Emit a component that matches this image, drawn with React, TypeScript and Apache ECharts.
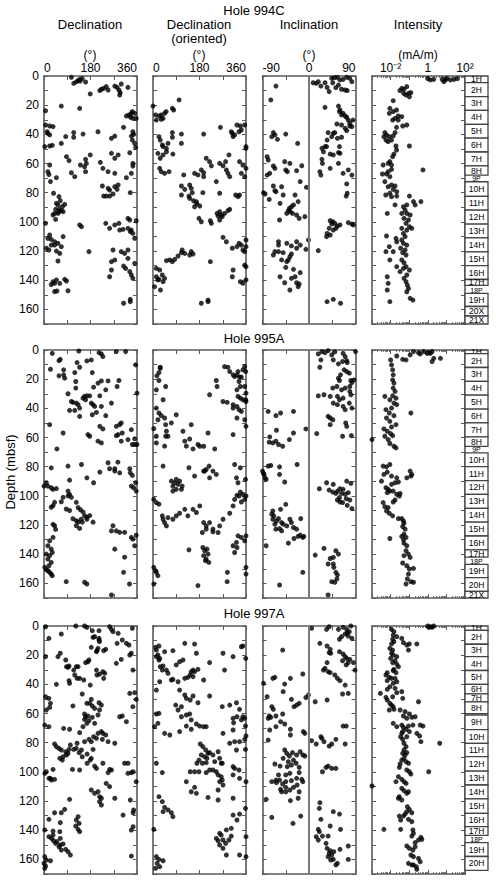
import React, { useEffect, useRef } from 'react';
import * as echarts from 'echarts';

const FONT = '"Liberation Sans", Arial, Helvetica, sans-serif';

// ---------------- Data (declination/inclination in degrees, depth in mbsf) ----------------
const holeNames = ['994C', '995A', '997A'];
const columnTitles = ['Declination', 'Declination\n(oriented)', 'Inclination', 'Intensity'];
const columnUnits = ['(°)', '(°)', '(°)', '(mA/m)'];
const depthTickLabels = [0, 20, 40, 60, 80, 100, 120, 140, 160];

const dec994C: number[][] = [
  [106,0.9],[115,5],[132,3.2],[138,2.3],[148,1.8],[140,3.5],[161,4.1],[125,4.0],
  [179,12.3],[216,10],[222,9.1],[241,7.3],[248,9.6],[231,8.5],
  [274,6.9],[283,7.8],[290,9.6],[293,13],[295,11.4],[299,5.5],[325,7.8],
  [6,23.8],[67,20.6],[138,22.2],
  [319,27.4],[329,26.7],[338,25.6],[342,24.4],[335,28.3],[344,29],[351,25.6],[357,29],[308,35.2],
  [6,33.6],[12,38.2],[22,34.3],[35,34.7],[15,39.3],[22,40.4],
  [3,48.4],[22,48],[32,47.5],[67,46.2],[84,41.5],[115,38.8],[115,42],[151,39.8],[209,38.2],[261,42.7],[274,41.2],
  [344,38.2],[347,40],[342,43.9],[351,46.2],[355,48.9],[338,41.2],[332,52.6],
  [261,53],[274,56.4],[287,54.1],[87,55.3],[97,58],[179,54.1],[161,57.1],[164,59.9],[141,61],[157,62.2],
  [22,61],[15,65.6],[19,67.5],[218,59.2],[228,63.3],[248,65.6],[274,66.7],[344,59.9],[344,61.7],[338,66.7],
  [106,66.3],[119,69],[319,69.7],[161,65.6],[48,69.7],
  [25,72.4],[37,80.4],[58,82.7],[63,85.5],[54,88.4],[48,87.3],[45,91.4],[58,91.4],[71,89.6],[80,88],[67,92.3],[41,94.2],[54,94.2],[74,93],[35,95.3],[45,98.3],[58,93],
  [6,101],[138,102.1],[145,103.3],
  [22,109],[15,111.3],[28,112],[41,113.6],[54,114.7],[74,110.1],[28,115.9],[41,115.9],[9,118.1],[19,119.3],[48,120],[67,117],[61,121.6],[54,126.8],[174,120.4],
  [35,141],[48,139.8],[61,142.1],[80,139.4],[87,140.5],[41,142.1],[41,147.8],[50,147.4],[93,147.2],[28,143],
  [226,75.4],[248,77],[254,78.2],[274,75.9],[287,74.7],[283,77.7],[231,82.3],[241,82.3],[254,82.3],[267,80.9],[334,80],
  [239,101],[254,104.4],[274,102.1],[290,101],[293,105.6],[306,105.1],[325,97.6],[332,98.7],[338,105.6],[344,107.9],[351,111.3],[357,99.2],[334,106.7],[325,104.4],
  [267,119.3],[274,126.1],[261,127.3],[261,133],[254,137.6],[299,120.4],[312,121.6],[325,125],[316,131.9],[332,134.1],[338,136.4],[344,138.7],[308,130.3],[351,128.4],[325,119.3],
  [308,155.8],[334,153.1],[334,154.7]
];

const decOr994C: number[][] = [
  [0,20.6],[10,26.7],[23,27.4],[32,26.7],[39,29],[32,29.7],[45,25.6],[51,24.4],[75,22.2],[80,23.3],[101,16.4],
  [13,30.2],[23,41.6],[28,43.9],[36,47.3],[39,48.4],[52,49.6],[58,46.2],
  [75,38.8],[75,42],[110,39.8],[110,46.2],
  [19,53],[28,56.4],[39,54.1],[52,51.9],[77,53.5],
  [196,39.8],[261,35.2],
  [303,38.2],[310,41.5],[316,40.4],[307,39.3],[325,33.6],[338,34.3],[333,38.2],[342,37],[355,33.6],[360,48.4],[360,49.6],
  [26,63.3],[32,65.6],[45,66.7],[62,65.6],[119,67.8],
  [161,66.7],[174,67.8],[187,64.4],[196,66.3],[196,69],
  [206,56.4],[219,58.7],[226,61.6],
  [258,59.9],[271,61.5],[281,58.7],[294,54.1],[284,64.4],[290,66.7],[297,69],
  [335,58.7],[348,61],[342,66.7],[360,63.3],[355,69],
  [110,75.4],[110,81.6],[123,77.7],[142,74.7],[139,82.3],[148,77],[152,80],[142,83.9],[157,85.5],[170,87.7],[161,89.6],[168,86.2],[181,89.1],
  [193,80],[245,72.4],[258,80.4],
  [178,97.6],[187,99.9],[222,99.2],[226,101],
  [248,94.2],[258,93],[268,96.4],[277,94.2],[290,92.3],[297,91.4],[258,98.7],[264,95.3],[252,96],
  [320,81.6],[329,82.7],[335,81.6],
  [271,110.6],[284,113.6],
  [307,118.1],[325,117],[333,114.7],[342,115.9],[348,119.3],[355,120.4],[360,112.4],[360,117],
  [355,129.6],[360,130.7],[310,133],[307,137.6],[338,141],[348,142.1],[360,139.8],
  [110,121.1],[123,121.6],[142,122.7],[148,120.4],[155,122],[113,119.3],
  [65,126.1],[75,127.3],[52,126.6],[84,125.7],[97,123.4],
  [13,131.9],[26,133],[36,136.4],[45,138.7],[23,139.4],[13,137.6],[39,141],[6,144.4],[29,146.7],[19,139.8],
  [222,127.3],[187,155.8],[213,154.7],[213,153.6]
];

const inc994C: number[][] = [
  [-64,6.9],[-74,16.4],[-69,38.8],[-66,40.4],[-72,41.6],[-61,43.4],[-45,39.8],[-22,46.2],
  [-81,55.3],[-79,57.6],[-69,61.7],[-66,63.3],[-76,66.7],[-81,67.9],[-47,58.7],[-37,59.9],[-45,64.4],[-42,65.6],[-24,64.9],[-14,61.5],
  [8,4.6],[14,5],[18,3.9],[23,6.9],[31,4.6],[35,7.8],[39,10.7],[44,1.6],[50,1.1],[55,0.9],[60,2.7],[66,2.3],[73,0.9],[79,1.6],[83,3.9],[57,6.2],[63,9.1],[70,9.6],[74,10],[52,8],[46,4.6],
  [31,21.5],[57,20.6],[60,23.3],[66,25.6],[70,27.4],[73,28.3],[76,30.2],[79,32.4],[83,34.7],[59,24.4],[63,26.7],
  [54,32.9],[63,33.6],[70,35.9],[73,37.5],[79,34.3],[85,30.2],[47,39.3],[50,38.8],
  [37,38.8],[44,41.6],[35,43.9],[31,48.4],[25,49.6],[28,51.9],[34,48.4],[41,53.5],[47,54.1],[57,52.5],[60,53],[59,48.4],[55,42.7],[63,42],
  [25,57.1],[26,59.9],[21,65.6],[23,67.9],[41,63.3],[57,59.9],[66,66.7],[76,64.4],[83,67.9],
  [-69,75.4],[-53,75.9],[-64,79.3],[-85,80.9],[-88,80],[-77,84.6],[-56,87.3],[-66,78.6],[-50,81.6],[-27,81.6],[-21,86.1],[-5,76.3],[-17,72.4],[-30,88.4],[-34,89.6],[-38,90.7],[-36,93],[-43,94.2],[-32,94.2],[-24,95.3],[-40,92.3],[-57,98.7],[-19,97.6],[-8,96.4],
  [-59,113.6],[-43,114.7],[-24,113.6],[-17,115.9],[-24,118.1],[-34,116.5],[-1,112.4],[-6,118.8],[-66,120.4],[-69,122.7],[-59,120.4],[-50,121.1],[-53,126.1],[-40,126.1],[-37,123.9],[-34,122],[-43,127.3],[-45,131.2],[-30,132.5],[-17,134.8],[-27,137.6],[-34,138.7],[-56,137.6],[-47,141.7],[-24,141.7],[-21,144.4],[-37,146.7],[-19,142.6],[-59,115.9],
  [18,119.7],[41,99.2],[46,99.9],[44,101.5],[50,101],[55,102.8],[60,102.1],[39,104.4],[35,107.9],[41,109],[47,105.6],[52,104.4],[34,110.1],[76,100.5],[83,101.5],[86,102.1],
  [73,74],[74,80.4],[72,82.3],
  [35,154.7],[47,153.1],[61,155.8]
];

// intensity given as log10(mA/m)
const intLog994C: number[][] = [
  [0,1.8],[0.14,2.7],[0.32,2.3],[0.77,2.3],[0.86,3.9],[0.95,2.7],[1.04,1.6],[1.22,2.7],[1.41,2.3],[1.59,1.8],
  [-1.4,8.5],[-1.5,10],[-1.28,9.1],[-1.3,11.9],[-1.17,13],[-1.04,11.9],[-0.91,11.4],[-0.99,14.2],[-1.13,7.3],
  [-1.86,16.9],
  [-2.04,22.2],[-2.07,25.6],[-1.86,24.4],[-1.68,23.3],[-1.59,27.4],[-1.76,29],[-1.59,30.2],[-1.4,27.9],[-1.13,33.6],[-1.35,34.3],[-1.68,35.2],[-1.89,30.2],
  [-2.31,38.8],[-2.22,40.4],[-2.07,41.6],[-1.95,43.9],[-2.13,45],[-1.86,41.1],[-1.76,38.8],[-2.36,41.6],[-2.25,43.9],
  [-1.71,48],[-1.68,50.7],[-0.99,48],[-1.82,53.5],[-1.89,55.3],[-2.04,58.7],[-2.13,59.9],[-1.95,61],
  [-1.95,64],[-2.13,65.6],[-2.22,67.2],[-2.04,69],[-2.4,61],[-2.44,67.2],[-0.26,64.4],
  [-2.31,72.4],[-2.13,75.9],[-1.95,74.7],[-1.76,75.4],[-1.86,77.7],[-1.67,79.3],[-2.04,80.4],[-2.26,81.6],[-1.95,82.7],[-1.67,82.3],
  [-0.99,82.3],[-0.77,86.1],[-0.37,86.1],[-0.68,88.4],[-1.76,88.4],[-2.18,94.2],
  [-1.31,89.6],[-1.13,88.4],[-1.22,91.9],[-1.4,94.2],[-1.13,94.2],[-0.95,95.3],[-1.28,97.6],[-1.04,98.7],[-1.17,101],[-0.99,103.3],[-0.86,104.4],[-1.13,105.6],[-1.4,104.4],[-1.31,107.9],[-1.22,110.1],[-1.4,112.4],[-1.31,114.7],[-1.13,115.9],[-1.46,118.1],[-1.22,119.3],[-1.35,121.1],[-1.17,122.7],[-1.4,126.1],[-1.28,128],[-1.17,130.7],[-0.99,133],[-1.31,131.9],[-1.49,134.1],[-1.13,136.4],[-1.28,138.7],[-1.17,141],[-1.1,143.3],[-1.04,145.6],[-1.13,147.9],[-0.95,152.4],[-0.8,153.6],
  [-2.07,117],[-1.86,120.4],[-2.25,120.4],[-1.71,111.3],[-1.67,113.6],[-2.22,109.7],[-2.04,126.1],[-1.67,130.7],[-2.18,137.6],[-2.13,142.1],[-2.18,146.7],[-2.04,154.7]
];

const dec995A: number[][] = [
  [32,2.3],[63,6.4],[58,7.3],[25,13.2],[76,13.6],[76,17],[80,19.3],[58,17.7],[135,0.7],[128,8.6],[138,11.8],[119,15.5],[123,21.6],[123,26.1],[166,7.5],[183,6.8],[187,15.5],[213,1.8],[222,2.7],[228,4.5],[192,25.5],[209,22.7],[222,21.2],[248,21.2],[239,27.3],[290,20.9],[283,25],[280,1.1],[316,1.1],[355,10.2],[360,29.6],
  [93,30],[106,35.3],[112,35.9],[125,36.4],[132,37.5],[99,41.4],[119,41.4],[138,39.8],[151,33],[157,31.8],[161,34.1],[166,31.4],[177,31.4],[183,36.4],[190,37.5],[196,38.7],[203,42.8],[187,44.4],[216,31.4],[222,38.7],[239,45],[261,36.4],[280,52.3],[293,51.2],[299,50],[138,45.5],[22,51.2],[74,56.9],[170,58],[177,59.1],[216,52.3],[228,54.1],[280,58.7],[287,58],[299,62.5],[303,56.9],[338,54.6],[325,61.4],[351,60.9],[209,62.5],[222,63.7],[351,64.8],[342,64.8],[360,64.8],[50,67.8],
  [28,80.8],[93,79.6],[99,89.2],[145,78.5],[166,87.6],[192,91],[216,83.7],[248,77.3],[254,81.4],[274,81.4],[286,76.9],[293,84.2],[274,83],[332,81.4],[334,84.2],[342,86],[355,91],[347,94.4],[338,93.3],[357,96.7],[9,91],[15,93.3],[28,94.4],[0,93.3],[35,95.5],[48,95],
  [93,96.7],[93,100],[99,99],[106,101],[74,101],[67,104],[35,106.7],[28,107.8],[41,104.4],[86,109],[99,110],[125,104.4],[132,108],[141,109.5],[151,111],[157,113.5],[166,114.6],[112,115.7],[125,117],[132,118],[125,120.5],[138,122.3],[144,116],[148,118],[166,116],[177,113.5],[190,118],[267,120.5],[261,124],[280,124],[274,136.5],[293,125],[312,125],[357,127],[338,128.5],[344,129.7],[312,142],[351,134.2],[35,119.5],[41,120.5],[35,128.5],[45,123],
  [22,130.8],[15,134.2],[28,136.5],[32,138.8],[9,139.9],[22,141],[15,143.3],[28,145.6],[19,147.9],[3,149],[9,150.6],[15,151.3],[22,152.4],[28,153.6],[32,154.7],[86,158.8],[157,159.2],[166,160.4],[331,160.4],[308,152.4],[261,167.9]
];

const decOr995A: number[][] = [
  [15,17.7],[23,15.5],[28,11.8],[23,20.9],[13,27.3],[49,25],[39,34.1],[28,12.5],
  [13,39.8],[23,43.2],[32,45],[45,46.6],[19,47.8],[49,51.2],[52,55.7],[49,59.1],[13,59.1],[3,53.9],[13,63.7],[45,65.9],[58,59.1],[71,50],[90,44.4],[116,55.7],[123,62.5],[129,65.9],[148,51.2],[155,67.8],
  [277,11.4],[290,11.8],[297,14.8],[310,17],[316,18.2],[329,14.8],[325,17],[335,18.6],[333,21.6],[342,18.6],[348,13.6],[355,11.4],[359,14.8],[338,25],[325,27.3],[355,25],[360,29.6],[329,31.8],[338,33],[348,34.1],[360,35.3],[310,37.5],[325,38.7],[333,40.9],[342,42.1],[359,34.1],
  [245,20.9],[248,25],[219,30.7],
  [271,35.3],[287,35.9],[310,39.8],[325,46.6],[355,47.8],[360,52.3],[310,58],
  [213,56.9],[142,61],[174,64.8],[181,66],[196,66],[239,67.8],
  [39,79.6],[71,89.9],[77,93.3],[84,91],[90,88.7],[97,92.1],[103,89.9],[110,95.5],[77,96.7],[90,95.5],[113,93.3],[139,80.7],[161,86.4],[196,83],[206,81.9],[217,79.6],[232,83],[219,87.6],[200,83],[245,85.3],
  [316,78.5],[338,80.8],[323,87.6],[329,91],[358,88.7],
  [3,102.4],[13,104.6],[23,105.7],[36,113.7],[39,116],[45,118.3],[52,120.6],[58,114.9],[77,116],[90,113.7],[103,111.9],[123,109.2],[135,113.7],[155,109.2],[168,111.4],[181,106.9],[196,118.3],[206,120.6],[219,118.3],[232,122.8],[258,120.6],[271,116],[297,111.9],[310,106.9],[316,102.4],[325,99.6],[333,100.1],[338,97.4],[348,98.9],[342,104.2],[355,102.4],[360,100.1],
  [191,125.1],[206,122.8],[232,124.6],[252,125.1],[310,134.2],[323,131.9],[316,138.8],[329,127.4],[342,128.5],[325,135.4],[355,130.8],[360,127.4],
  [193,135.4],[200,137.6],[196,141],[206,143.3],[213,139.9],[209,136.5],[203,144.4],[216,145.6],[288,152.4],[287,158.8],[360,153.6],[360,149],[139,137],
  [3,149],[13,152.4],[19,154.7],[10,151.3],[3,160.4],[174,161.5]
];

const inc995A: number[][] = [
  [18,2.7],[25,1.1],[31,1.8],[37,0.4],[44,3.4],[50,1.3],[66,2.3],[90,1.1],[23,6.8],[47,6.8],[21,11.8],[57,9.5],[70,4.5],[73,7.3],[65,7.9],[74,8.6],[68,13.6],[73,14.8],[78,15.9],[57,19.3],[61,17],[59,20.9],[81,20.9],[87,20.5],[83,22.3],[79,25],[70,26.1],[54,25],[46,26.1],[63,27.3],[18,31.4],[29,30.7],[41,31.8],[55,31.8],[59,34.1],[66,33],[81,30.7],[79,28.4],[78,36.4],[47,36.4],[55,37.5],[70,40.9],[83,39.8],[66,38.7],[41,46.6],[37,45.5],[46,47.8],[41,51.2],[71,50],[73,52.3],[65,59.1],[82,58.7],[15,57.3],
  [-79,42.1],[-64,45],[-55,43.2],[-30,42.1],[-6,54.1],[-63,55],[-30,56.9],[-76,59.6],[-77,63.2],[-70,63.7],[-64,62.5],[-59,64.8],[-51,66],[-38,61.4],
  [-90,83],[-87,85.3],[-85,87.6],[-83,88.7],[-88,84.6],[-79,79.6],[-74,79.2],[-57,80.1],[-57,85.3],[-47,90.5],[-23,78.5],
  [34,91],[47,92.1],[73,89.9],[81,91.4],[20,95.1],[39,96],[46,97.4],[55,96.7],[60,95.1],[66,95.5],[52,98.3],[63,98.3],[70,98.9],[76,97.8],[55,102.8],[60,104.2],[72,101.9],[79,102.8],[65,104.6],[74,106.5],[83,108.7],[59,101.2],
  [-45,105.8],[-55,109.2],[-70,110.3],[-72,112.6],[-68,113.7],[-70,116],[-63,117.2],[-59,115.6],[-53,118.3],[-50,119.4],[-43,120.6],[-66,119.4],[-64,122.8],[-57,122.4],[-53,124],[-37,116],[-34,118.3],[-30,121.7],[-24,122.8],[-16,115.6],[-17,126.9],[-21,127.8],[-12,128.5],[-10,127.8],[-29,129.2],[-40,132.4],[-83,134.2],[-12,152.4],[-57,161.1],
  [29,136],[52,137.6],[12,140.6],[57,139.9],[41,142.9],[47,142.2],[37,146.7],[47,146.7],[48,149],[52,152.4],[55,154.2],[54,156.9],[50,159.2],[44,158.8],[37,167.9]
];

const intLog995A: number[][] = [
  [-1.67,4.1],[-1.35,6.4],[-1.17,6.8],[-0.95,3.4],[-0.77,1.1],[-0.5,1.8],[-0.41,2.7],[-0.22,1.1],[-0.04,2.3],[0.05,1.8],[0.14,2.3],[0.23,1.1],[0.23,7.9],[0.32,5.7],[0.68,5.7],
  [-2,6.8],[-1.95,10.2],[-1.89,13.6],[-1.86,17],[-1.89,20.5],[-1.82,22.7],[-1.86,26.1],[-1.76,28.4],[-1.89,31.4],[-1.71,33],[-1.82,36.4],[-2.31,31.8],[-2.04,34.1],[-1.67,37.5],[-1.95,39.8],[-2.25,40.9],[-2.07,43.2],[-1.82,45],[-2.22,46.6],[-2.04,48.9],[-1.71,51.2],[-1.95,52.8],[-2.36,54.1],[-2.18,55.7],[-2,57.3],[-2.31,59.1],[-1.89,58.7],[-2.13,61.4],[-2.04,64.1],[-1.82,66],[-1.71,67.1],[-0.91,43.2],[-3,61.4],
  [-2.4,79.6],[-2.22,80.1],[-2.04,78.5],[-2.36,85.3],[-2.18,83.7],[-1.95,86.4],[-1.67,87.6],[-1.13,87.6],[-0.95,83],[-0.86,85.3],[-0.91,86.4],[-2.49,89.9],[-2.25,94.4],[-2.13,95.5],[-2.04,96.7],[-2.18,97.8],[-1.95,92.1],[-1.76,91],[-1.58,90.5],[-1.86,96.7],[-1.67,98.9],[-1.53,100.1],[-1.76,102.8],[-1.86,104.2],[-1.49,98.3],[-2.4,104.6],[-2.31,107.4],[-2.13,108],[-2.22,110.3],[-2.07,111.9],[-1.89,113.7],[-1.58,115.6],[-1.4,115.6],[-1.31,117.2],[-1.28,118.7],[-1.35,121],[-1.22,122.8],[-1.28,126.2],[-1.17,128.5],[-1.4,127.8],[-1.31,130.1],[-1.28,132.4],[-1.13,134.2],[-1.17,137.6],[-1.04,139.9],[-0.95,142.2],[-1.28,141],[-1.35,146],[-1.13,147.9],[-0.99,150.1],[-0.77,149.7],[-1.04,153.6],[-1.1,156.9],[-0.91,158.8],[-0.77,159.2],[-1.17,160.4],[-2.04,129.2]
];

const dec997A: number[][] = [
  [6,0.5],[19,8.5],[67,5.5],[123,0],[157,0],[166,0.9],[187,3.2],[196,7.3],[213,3.2],[213,8.5],[213,9.6],[215,10.7],[190,7.8],[183,14.6],[205,16.9],[209,15.3],[203,17.6],[231,16.9],[239,16],[254,0.5],[261,2.3],[267,3.9],[287,5],[283,11.9],[303,9.6],[319,11.9],[342,1.6],[329,13],[338,18.7],
  [6,21],[54,21],[63,18.7],[84,23.3],[87,27.9],[93,28.3],[97,27.4],[115,30.2],[119,33.6],[125,27.9],[128,35.9],[138,35.9],[154,37],[97,37.5],[99,39.3],[161,25.1],[170,24.5],[174,23.3],[203,30.2],[205,33.6],[215,33],[228,31.3],[235,32.4],[231,35.9],[48,40],[179,40.5],[132,27.9],[280,25.6],[299,22.9],[332,19.9],[344,30.2],
  [6,48.5],[19,49.6],[25,53],[22,55.8],[9,57.6],
  [112,54.8],[148,46.6],[166,53],[177,53],[183,50.3],[187,54.8],[196,56.5],[213,52.6],[222,54.2],[209,61],[215,57.6],[157,64],[157,60.3],[161,62.2],[170,61.7],[174,64.9],[166,66.7],[187,62.6],[196,66.7],[151,69],[138,73.1],[157,79.3],[174,77.7],[183,79.3],[192,75.9],[203,77],[209,73.6],[222,72.4],[228,73.6],[239,74.7],[293,62.2],[303,61.7],[319,65.6],[332,46.2],[344,55.3],[351,45.7],[357,50.3],
  [3,67.9],[19,69],[76,70.2],[99,70.8],
  [41,80.9],[48,82.7],[58,83.9],[67,85],[84,86.2],[87,88.4],[93,87.3],[97,84.6],[102,81.6],[115,84.6],[125,83.9],[128,80.4],[136,86.8],[145,85],[148,89.6],[167,87.8],[167,94.1],[179,91.9],[183,90.7],[190,84.6],[74,89.6],[61,90.7],[71,91.9],[35,98.3],[25,104.4],[29,105.6],[41,105.1],[19,104.4],[3,101],[9,99.9],[110,98.3],[138,98.7],
  [196,96],[203,97.6],[228,94.1],[248,100.5],[254,98.3],[261,98.7],[312,94.1],[325,101],[338,100.5],[345,99.9],[357,106.7],[325,94.1],[226,77.7],[248,79.3],[274,80.4],
  [99,118.8],[41,128],[67,128],[80,125.7],[125,133],[132,130.7],[136,135.3],[63,134.8],[123,137.1],[132,139.4],[138,141],
  [183,112.4],[196,114.7],[209,113.6],[215,117],[222,118.1],[241,107.9],[254,110.1],[274,118.1],[215,120.4],[222,122.7],[306,129.6],[334,119.3],[345,128],[345,137.6],[338,139.9],
  [19,132.5],[3,139.8],[19,144.4],[29,145.6],[35,143.3],[37,147.2],[45,149],[50,147.8],[58,151.3],[63,150.1],[67,153.6],[74,149.4],[61,141],[63,145.6],[84,153.1],[93,154.7],[102,157],[35,140.6],[9,160.4],[3,158.1],[0,162.7],[6,164.5],[3,166.1],[25,160.9],[338,157.7],[347,126.1]
];

const decOr997A: number[][] = [
  [10,14.6],[13,16.5],[23,13.7],[19,19.9],[26,22.2],[23,23.3],[45,17.6],[77,16.9],[13,21],
  [28,27.9],[39,27.4],[36,30.2],[52,30.2],[58,32.4],[71,37],[77,36.6],[26,38.2],[13,43.9],[90,26.7],[103,24.5],[116,23.3],[123,35.9],[135,35.2],[144,33.6],[148,31.3],[155,30.2],[161,31.3],[174,29.7],[123,11.9],[161,12.4],[168,18.7],[219,25.1],[271,18.7],[277,30.2],[310,21],[342,14.2],[348,13.7],[359,22.2],
  [13,60.3],[23,59.9],[19,66.7],[45,73.6],[65,74.7],[6,69],[103,72.4],[13,94.1],[36,100.5],[23,117],[36,120.4],[45,124.3],[58,126.1],[71,128],[77,130.7],[39,127.3],[3,139.4],[13,158.1],[23,160],[16,162.7],[26,165],[10,166.1],[39,160.9],
  [110,62.2],[129,61],[142,60.3],[148,64.4],[168,67.2],[181,68.6],[196,69],[206,69],[129,68.6],[148,70.8],
  [103,43.9],[123,47.3],[129,49.6],[144,50.7],[110,55.3],[88,54.2],[97,57.6],[155,48],[174,52.6],[219,48],[196,37],[155,34.7],[97,38.2],
  [268,55.3],[297,54.2],[323,52.6],[335,57.1],[310,63.3],[325,62.2],[348,62.2],[342,64.4],[355,63.3],[358,68.5],[360,75.4],[355,77.7],[335,79.3],[316,79.3],[297,80.4],[271,73.6],[310,71.3],[312,66.3],[358,84.6],[323,85],[268,94.1],[310,96.4],[316,97.6],[310,102.1],[333,98.7],[335,104.4],[310,118.1],[335,128.9],[310,129.6],[325,133],[303,138.7],[284,139.8],[264,143.3],[245,145.6],[258,142.1],[271,146.7],[252,147.2],[258,150.1],[271,152.4],[281,149],[294,146.7],[303,144],[335,157],[360,158.1],[360,144.4],[284,157],[358,125],[360,106.7],
  [183,80.9],[193,82.7],[204,85],[213,87.3],[219,86.8],[187,88.4],[200,89.6],[209,90.7],[232,88.4],[178,91.9],[170,94.1],[191,94.1],[206,93.7],[239,93],[252,86.2],[258,90.7],[264,94.1],[232,98.7],[245,99.9],[252,102.1],[264,103.3],[268,105.6],[258,106.7],[271,109],[252,112.4],[219,98.7],[206,100.5],[178,99.9],[161,99.9],[144,99.9],[161,110.6],[148,113.6],[129,106.7],[168,114.7],[252,119.3],[213,117.5]
];

const inc997A: number[][] = [
  [5,1.6],[34,2.3],[39,0.5],[57,2.3],[66,0.9],[73,2.3],[74,4.6],[78,3.9],[81,0],[59,9.1],[63,7.3],[70,5.5],[76,6.9],[83,8.5],[21,11.9],[35,13.7],[41,16],[39,18.3],[42,18.7],[59,17.6],[66,19.2],[70,21],[73,22.2],[79,22.9],[76,25.1],[86,25.1],[89,30.2],[72,26.7],[65,23.8],[31,29],[28,30.2],[37,31.3],[41,32],[35,25.1],[50,33.6],[55,35.9],[60,37.5],[70,40.5],[65,46.6],[76,46.2],[35,50.7],[72,68.6],
  [-51,16.5],[-12,32.9],[-36,35.9],[-66,35.2],[-70,35.9],[-88,39.3],[-47,39.8],[-50,45],[-81,48.5],[-34,50.3],[-1,47.3],[-6,49],[-19,53],[-24,54.2],[-29,55.3],[-72,55.3],[-69,57.1],[-77,61.7],[-79,63.3],[-74,62.6],[-64,61.7],[-51,60.3],[-55,65.6],[-47,67.2],[-64,69],[-76,71.3],[-79,78.2],[-36,70.8],[-36,74.7],[-11,72.4],[-8,73.6],[12,51.9],
  [5,78.6],[14,80.9],[23,75.9],[25,77],[29,79.3],[39,82.3],[44,80.9],[52,77.7],[70,80.9],[66,68.6],[37,96],[33,96.9],[26,99.9],[44,97.6],[52,97.6],
  [-47,85],[-43,87.3],[-38,89.1],[-32,86.8],[-24,88.4],[-17,86.2],[-12,88.4],[-8,89.1],[-30,91.9],[-25,94.1],[-40,93],[-50,90.7],[-66,94.6],[-56,96],[-42,96.4],[-34,95.3],[-19,96.9],[-19,100.5],[-37,101],[-45,102.1],[-59,102.1],[-57,105.6],[-64,105.6],[-72,106.7],[-63,107.4],[-51,108.3],[-45,106.7],[-34,106],[-24,104.4],[-14,105.1],[-12,106.7],[-23,109],[-30,110.6],[-45,110.6],[-55,112],[-53,113.6],[-45,113.6],[-37,112.4],[-19,113.6],[-21,118.1],[-36,119.7],[-83,118.8],[-72,131.2],[-31,135.3],[-16,130.3],
  [21,121.1],[20,125],[23,132.5],[18,139.4],[20,141],[14,144.4],[18,146.7],[26,144],[37,144],[47,127.3],[59,128.9],[41,137.1],[61,139.4],[33,149],[35,152.4],[41,154],[39,155.8],[44,157],[48,154.7],[47,160],[42,160.4],[52,163.8],[55,162.7],[37,158.1],[76,150.8],[60,153.1],[76,160]
];

const intLog997A: number[][] = [
  [0,0],[0.14,0.5],[0.23,0.9],[0.32,0],[0.05,0.9],
  [-1.95,2.3],[-1.82,3.9],[-1.86,6.2],[-1.67,7.3],[-1.89,9.1],[-1.82,10.7],[-1.95,12.3],[-1.4,8.5],[-1.31,11.4],[-1.13,13],[-0.99,12.3],[-0.59,12.3],[-1.04,16.5],[-2.04,15.3],[-1.89,16.5],[-1.95,18.7],[-1.86,19.9],[-2,22.2],[-1.67,21],[-1.76,23.8],[-1.89,25.1],[-1.67,26.1],[-1.58,27.9],[-1.82,29.7],[-1.71,32],[-1.86,30.6],[-2.18,32],[-2.25,33.6],[-2.07,35.2],[-2.18,37.5],[-1.95,35.9],[-1.76,35.9],[-1.67,38.2],[-1.86,39.3],[-2.04,41.6],[-2.18,43.4],[-1.76,42.7],[-1.67,45.7],[-2.55,46.2],[-2.25,48.9],[-2.18,50.7],[-1.89,48.5],[-1.4,45],[-1.35,49.6],[-0.5,51.9],[-2.04,53],[-1.86,55.3],[-1.95,54.2],[-2.07,57.6],[-1.82,57.1],[-1.49,57.6],[-1.22,58.7],[-1.31,61.7],[-0.99,60.3],[-1.13,63.3],[-0.86,62.6],[-0.68,62.2],[-1.86,66.7],[-1.67,69],[-1.4,67.9],[-1.31,69.5],[-1.17,70.8],[-1.04,68.6],[-0.8,67.9],[-0.41,67.9],[-0.26,68.6],[-1.35,72.4],[-0.99,72.4],[-1.13,75.9],[-0.59,73.6],[-0.44,75.4],[-0.37,79.3],[0.64,80.4],[-1.4,73.6],[-1.46,75.9],[-1.35,77.7],[-1.28,80.4],[-1.17,82.7],[-1.28,85],[-1.35,87.3],[-1.22,88.4],[-1.13,86.8],[-1.28,90.7],[-1.4,91.9],[-1.17,93],[-1.04,94.1],[-1.49,94.6],[-1.53,96.9],[-1.13,98.7],[-0.99,99.9],[-0.91,101.5],[0.05,99.9],[-1.58,103.3],[-1.71,106.7],[-1.4,105.1],[-1.28,106.7],[-1.17,107.9],[-3,109.7],[-1.4,111.3],[-1.28,112.9],[-1.13,114.7],[-1.04,113.6],[-1.53,117],[-1.58,118.1],[-1.4,119.3],[-1.1,123.9],[-0.99,125.7],[-1.13,127.3],[-1.22,128.9],[-1.31,130.3],[-0.86,128],[-1.53,130.3],[-1.46,133],[-1.04,132.5],[-0.86,134.1],[-2.36,139.4],[-1.46,139.4],[-0.8,139.8],[-0.77,142.1],[-0.86,144],[-0.37,144.9],[-0.32,146.3],[-0.5,146.7],[-0.68,148.5],[-1.13,150.8],[-0.99,152.4],[-0.68,151.3],[-0.8,153.6],[-0.91,157],[-0.77,158.1],[-0.5,159.3],[-1.04,162.7],[-0.77,163.8],[-0.62,165],[-0.59,166.8],[-0.86,163.8],[-0.41,161.6]
];

// cores: [label, top depth, bottom depth]
const cores994C: [string, number, number][] = [
  ['1H',0,4.6],['2H',4.6,14.1],['3H',14.1,23.6],['4H',23.6,33.1],['5H',33.1,42.6],['6H',42.6,52.1],['7H',52.1,61.6],['8H',61.6,68],['9P',68.8,72],['10H',72.5,82.5],['11H',82.5,92],['12H',92,101.5],['13H',101.5,111],['14H',111,120.5],['15H',120.5,130],['16H',130,139.5],['17H',139.5,143.5],['18P',145,149],['19H',149,158],['20X',158,164.5],['21X',164.5,170]
];
const cores995A: [string, number, number][] = [
  ['1H',0,2.5],['2H',2.5,12],['3H',12,21.5],['4H',21.5,31],['5H',31,40.5],['6H',40.5,50],['7H',50,59.5],['8H',59.5,66],['9P',66,70.5],['10H',70.5,80],['11H',80,89.5],['12H',89.5,99],['13H',99,108.5],['14H',108.5,118],['15H',118,127.5],['16H',127.5,137],['17H',137,142],['18P',143,147],['19H',147,156],['20H',156,165.5],['21X',165.5,170]
];
const cores997A: [string, number, number][] = [
  ['1H',0,3],['2H',3,12.5],['3H',12.5,21],['4H',21,30.5],['5H',30.5,40],['6H',40,46.5],['7H',46.5,52],['8H',52,60],['9H',61,71],['10H',71,80.5],['11H',80.5,89.5],['12H',89.5,99.5],['13H',99.5,109],['14H',109,118.5],['15H',118.5,128.5],['16H',128.5,137.5],['17H',137.5,143.5],['18P',144.5,148.5],['19H',148.5,158],['20H',158,167.5]
];

// ---------------- Layout ----------------
const COL_LEFT = [44, 153, 262.5, 372, 465];
const COL_W = [93, 93, 93, 93, 23];
const ROW_TOP = [76, 350, 626];
const ROW_H = 248;
const FRAME = '#5a5a5a';

function buildOption() {
  const holes = [
    { dec: dec994C, decOr: decOr994C, inc: inc994C, intLog: intLog994C, cores: cores994C },
    { dec: dec995A, decOr: decOr995A, inc: inc995A, intLog: intLog995A, cores: cores995A },
    { dec: dec997A, decOr: decOr997A, inc: inc997A, intLog: intLog997A, cores: cores997A },
  ];
  const grid: any[] = [];
  const xAxis: any[] = [];
  const yAxis: any[] = [];
  const series: any[] = [];

  const lineStyle = { color: FRAME, width: 1.6 };
  const tickStyle = { show: true, inside: true, length: 4, lineStyle: { color: FRAME, width: 1 } };

  holes.forEach((h, r) => {
    for (let c = 0; c < 5; c++) {
      const g = grid.length;
      grid.push({ left: COL_LEFT[c], top: ROW_TOP[r], width: COL_W[c], height: ROW_H });
      const isStrip = c === 4;
      let xBase: any;
      if (c <= 1) xBase = { type: 'value', min: 0, max: 360, interval: 90 };
      else if (c === 2) xBase = { type: 'value', min: -90, max: 90, interval: 45 };
      else if (c === 3) xBase = { type: 'log', min: 0.001, max: 100, logBase: 10 };
      else xBase = { type: 'value', min: 0, max: 1 };

      const fmt = (v: number) => {
        if (c <= 1) return v % 180 === 0 ? String(v) : '';
        if (c === 2) return v % 90 === 0 ? String(v) : '';
        const e = Math.round(Math.log10(v));
        return e === -2 ? '10⁻²' : e === 0 ? '1' : e === 2 ? '10²' : '';
      };
      const common = {
        ...xBase, gridIndex: g, show: !isStrip,
        axisLine: { show: true, onZero: false, lineStyle },
        axisTick: tickStyle,
        minorTick: c === 3 ? { show: true, splitNumber: 9, length: 2, lineStyle: { color: FRAME, width: 0.8 } } : { show: false },
        splitLine: { show: false },
      };
      xAxis.push({ ...common, position: 'bottom', axisLabel: { show: false } });
      xAxis.push({
        ...common, position: 'top',
        axisLabel: {
          show: r === 0, formatter: fmt, margin: 2, fontSize: 12, fontFamily: FONT, color: '#000',
          showMinLabel: true, showMaxLabel: true,
          ...(c <= 2 ? { alignMinLabel: 'left', alignMaxLabel: 'right' } : {}),
        },
      });
      const yCommon = {
        type: 'value', gridIndex: g, min: 0, max: 170, interval: 10, inverse: true, show: !isStrip,
        axisLine: { show: true, onZero: false, lineStyle },
        axisTick: tickStyle,
        splitLine: { show: false },
      };
      yAxis.push({
        ...yCommon, position: 'left',
        axisLabel: {
          show: c === 0, margin: 5, fontSize: 12, fontFamily: FONT, color: '#000',
          formatter: (v: number) => (depthTickLabels.includes(v) ? String(v) : ''),
        },
      });
      yAxis.push({ ...yCommon, position: 'right', axisLabel: { show: false } });

      const xi = 2 * g;
      const scatterBase = {
        type: 'scatter', xAxisIndex: xi, yAxisIndex: xi, symbolSize: 5,
        itemStyle: { color: '#000' }, silent: true,
      };
      if (c === 0) series.push({ ...scatterBase, data: h.dec });
      if (c === 1) series.push({ ...scatterBase, data: h.decOr });
      if (c === 2)
        series.push({
          ...scatterBase, data: h.inc,
          markLine: {
            silent: true, symbol: ['none', 'none'], label: { show: false },
            lineStyle: { color: '#7a7a7a', width: 2, type: 'solid' },
            data: [{ xAxis: 0 }],
          },
        });
      if (c === 3)
        series.push({ ...scatterBase, data: h.intLog.map((p) => [Math.pow(10, p[0]), p[1]]) });
      if (c === 4) {
        const cores = h.cores;
        series.push({
          type: 'custom', xAxisIndex: xi, yAxisIndex: xi, silent: true, clip: false,
          data: cores.map((k) => [0, k[1], k[2]]),
          encode: { x: 0, y: [1, 2] },
          renderItem: (params: any, api: any) => {
            const p0 = api.coord([0, api.value(1)]);
            const p1 = api.coord([1, api.value(2)]);
            const label = cores[params.dataIndex][0];
            const isP = label.endsWith('P');
            const children: any[] = [];
            if (!isP)
              children.push({
                type: 'rect',
                shape: { x: p0[0], y: p0[1], width: p1[0] - p0[0], height: p1[1] - p0[1] },
                style: { fill: '#fff', stroke: '#444', lineWidth: 1.3 },
              });
            children.push({
              type: 'text',
              x: (p0[0] + p1[0]) / 2,
              y: (p0[1] + p1[1]) / 2,
              style: {
                text: label, align: 'center', verticalAlign: 'middle',
                fontSize: isP ? 7 : 8.5, fontFamily: FONT, fill: '#000',
              },
            });
            return { type: 'group', children };
          },
        });
      }
    }
  });

  const text = (t: string, x: number, y: number, size: number, extra: any = {}) => ({
    type: 'text', x, y, silent: true, ...extra,
    style: { text: t, fontSize: size, fontFamily: FONT, fill: '#000', align: 'center', verticalAlign: 'middle' },
  });
  const titleX = [90, 199, 309, 418];
  const graphic: any[] = [
    text('Hole ' + holeNames[0], 254, 10, 13),
    text('Hole ' + holeNames[1], 254, 338, 13),
    text('Hole ' + holeNames[2], 254, 613, 13),
    text(columnTitles[0], titleX[0], 24, 13),
    text('Declination', titleX[1], 24, 13),
    text('(oriented)', titleX[1], 38, 13),
    text(columnTitles[2], titleX[2], 24, 13),
    text(columnTitles[3], titleX[3], 24, 13),
    ...columnUnits.map((u, i) => text(u, titleX[i], 55, 12)),
    text('Depth (mbsf)', 10, 472, 13, { rotation: Math.PI / 2 }),
  ];

  return { animation: false, backgroundColor: '#fff', grid, xAxis, yAxis, series, graphic };
}

export default function App() {
  const ref = useRef<HTMLDivElement>(null);
  useEffect(() => {
    if (!ref.current) return;
    const chart = echarts.init(ref.current, null, { renderer: 'svg' });
    chart.setOption(buildOption() as any);
    return () => chart.dispose();
  }, []);
  return (
    <div
      ref={ref}
      style={{ position: 'absolute', left: 0, top: 0, width: 496, height: 882, background: '#fff' }}
    />
  );
}
